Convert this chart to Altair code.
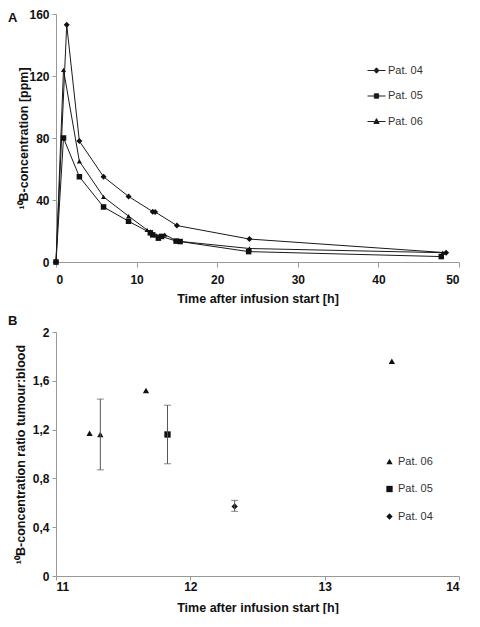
import altair as alt
import pandas as pd

FONT = "Liberation Sans"

# ---------- Panel A: 10B concentration over time ----------
patients_a = ["Pat. 04", "Pat. 05", "Pat. 06"]
p04_t = [0, 1.33, 2.9, 5.9, 9.0, 12.0, 12.3, 15.0, 24.0, 48.4]
p04_c = [0, 153, 78, 55, 42.3, 32.5, 32.3, 23.5, 14.8, 6.0]
p05_t = [0, 0.93, 2.9, 5.9, 9.0, 11.7, 12.0, 12.7, 13.1, 14.9, 15.4, 23.9, 47.8]
p05_c = [0, 80, 55, 35.5, 26.3, 18.8, 17.5, 15.4, 16.5, 13.5, 13.2, 6.7, 3.5]
p06_t = [0, 0.93, 2.9, 5.9, 9.0, 11.3, 11.7, 12.5, 13.5, 15.0, 24.0, 48.0]
p06_c = [0, 124, 65, 42, 29.6, 20.7, 19.8, 17.2, 17.7, 13.5, 8.7, 6.0]
shapes_a = ["diamond", "square", "triangle-up"]
sizes_a = [36, 25, 36]
legend_paths_a = [
    "M-1,0H1M0,-0.3L0.27,0L0,0.3L-0.27,0Z",
    "M-1,0H1M-0.24,-0.24H0.24V0.24H-0.24Z",
    "M-1,0H1M0,-0.32L0.3,0.22H-0.3Z",
]
x_ticks_a = [0, 10, 20, 30, 40, 50]
y_ticks_a = [0, 40, 80, 120, 160]

# ---------- Panel B: tumour:blood ratio ----------
patients_b = ["Pat. 06", "Pat. 05", "Pat. 04"]
b_patient = ["Pat. 06", "Pat. 06", "Pat. 06", "Pat. 06", "Pat. 05", "Pat. 04"]
b_t = [11.25, 11.33, 11.67, 13.5, 11.83, 12.33]
b_v = [1.17, 1.16, 1.52, 1.76, 1.16, 0.57]
err_t = [11.33, 11.83, 12.33]
err_lo = [0.87, 0.92, 0.53]
err_hi = [1.45, 1.40, 0.62]
shapes_b = ["triangle-up", "square", "diamond"]
x_ticks_b = [11, 12, 13, 14]
y_ticks_b = [0, 0.4, 0.8, 1.2, 1.6, 2]

panel_labels = ["A", "B"]

rows = []
for name, ts, cs in zip(patients_a, [p04_t, p05_t, p06_t], [p04_c, p05_c, p06_c]):
    for i, (t, c) in enumerate(zip(ts, cs)):
        rows.append({"patient": name, "t": t, "c": c, "i": i})
dfA = pd.DataFrame(rows)

dfB = pd.DataFrame({"patient": b_patient, "t": b_t, "v": b_v})
dfE = pd.DataFrame({"t": err_t, "lo": err_lo, "hi": err_hi})

W, HA, HB = 403, 248, 244

xA = alt.X("t:Q", scale=alt.Scale(domain=[0, 50], nice=False),
           axis=alt.Axis(values=x_ticks_a, title="Time after infusion start [h]",
                         tickSize=5, labelPadding=7, titlePadding=7))
yA = alt.Y("c:Q", scale=alt.Scale(domain=[0, 160], nice=False),
           axis=alt.Axis(values=y_ticks_a, title="¹⁰B-concentration [ppm]",
                         titleX=-26, titleBaseline="bottom"))

linesA = alt.Chart(dfA).mark_line(color="#1a1a1a", strokeWidth=1).encode(
    x=xA, y=yA, detail="patient:N", order="i:Q")
ptsA = alt.Chart(dfA).mark_point(filled=True, color="#111", opacity=1).encode(
    x=xA, y=yA,
    shape=alt.Shape("patient:N", scale=alt.Scale(domain=patients_a, range=shapes_a), legend=None),
    size=alt.Size("patient:N", scale=alt.Scale(domain=patients_a, range=sizes_a), legend=None),
)
legA = alt.Chart(dfA).transform_filter("false").mark_point(
    filled=True, fill="#111", stroke="#222", strokeWidth=1, opacity=1
).encode(
    shape=alt.Shape("patient:N", scale=alt.Scale(domain=patients_a, range=legend_paths_a),
                    legend=alt.Legend(title=None, orient="none", legendX=311, legendY=47,
                                      symbolSize=324, rowPadding=10.5, labelOffset=2, padding=0,
                                      labelFont=FONT, labelFontSize=11, labelColor="#333",
                                      symbolStrokeWidth=1))
)
labA = alt.Chart(pd.DataFrame({"lab": panel_labels[:1]})).mark_text(
    align="left", baseline="middle", fontSize=13, fontWeight="bold", font=FONT, color="#111"
).encode(x=alt.value(-48), y=alt.value(4), text="lab:N")

chartA = alt.layer(linesA, ptsA, legA, labA).resolve_scale(shape="independent").properties(
    width=W, height=HA)

xB = alt.X("t:Q", scale=alt.Scale(domain=[11, 14], nice=False),
           axis=alt.Axis(values=x_ticks_b, format="d", title="Time after infusion start [h]",
                         tickSize=4, labelPadding=1, titlePadding=9))
yB = alt.Y("v:Q", scale=alt.Scale(domain=[0, 2], nice=False),
           axis=alt.Axis(values=y_ticks_b, title="¹⁰B-concentration ratio tumour:blood",
                         labelExpr="replace(format(datum.value, '.1~f'), '.', ',')",
                         titleX=-29, titleBaseline="bottom"))

errB = alt.Chart(dfE).mark_rule(color="#555", strokeWidth=1).encode(
    x=alt.X("t:Q"), y=alt.Y("lo:Q"), y2="hi:Q")
capLo = alt.Chart(dfE).mark_tick(orient="horizontal", size=7, thickness=1, color="#555").encode(
    x="t:Q", y="lo:Q")
capHi = alt.Chart(dfE).mark_tick(orient="horizontal", size=7, thickness=1, color="#555").encode(
    x="t:Q", y="hi:Q")
ptsB = alt.Chart(dfB).mark_point(filled=True, color="#111", opacity=1, size=40).encode(
    x=xB, y=yB,
    shape=alt.Shape("patient:N", scale=alt.Scale(domain=patients_b, range=shapes_b),
                    legend=alt.Legend(title=None, orient="none", legendX=328, legendY=442,
                                      symbolSize=40, rowPadding=14.5, labelOffset=3, padding=0,
                                      symbolFillColor="#111", symbolStrokeColor="#111",
                                      labelFont=FONT, labelFontSize=11, labelColor="#333")),
)
labB = alt.Chart(pd.DataFrame({"lab": panel_labels[1:]})).mark_text(
    align="left", baseline="middle", fontSize=13, fontWeight="bold", font=FONT, color="#111"
).encode(x=alt.value(-48), y=alt.value(-11), text="lab:N")

chartB = alt.layer(ptsB, errB, capLo, capHi, labB).properties(width=W, height=HB)

chart = alt.vconcat(chartA, chartB, spacing=10).properties(
    padding={"left": 0, "top": 0, "right": 0, "bottom": 0}
).configure_view(stroke=None).configure_axis(
    grid=False, domainColor="#999", tickColor="#999", tickSize=4,
    labelFont=FONT, labelFontSize=12, labelFontWeight="bold", labelColor="#111",
    titleFont=FONT, titleFontSize=12.5, titleFontWeight="bold", titleColor="#111",
).configure_axisY(labelPadding=3)

chart.save("out.html", embed_options={"renderer": "svg", "actions": False})
